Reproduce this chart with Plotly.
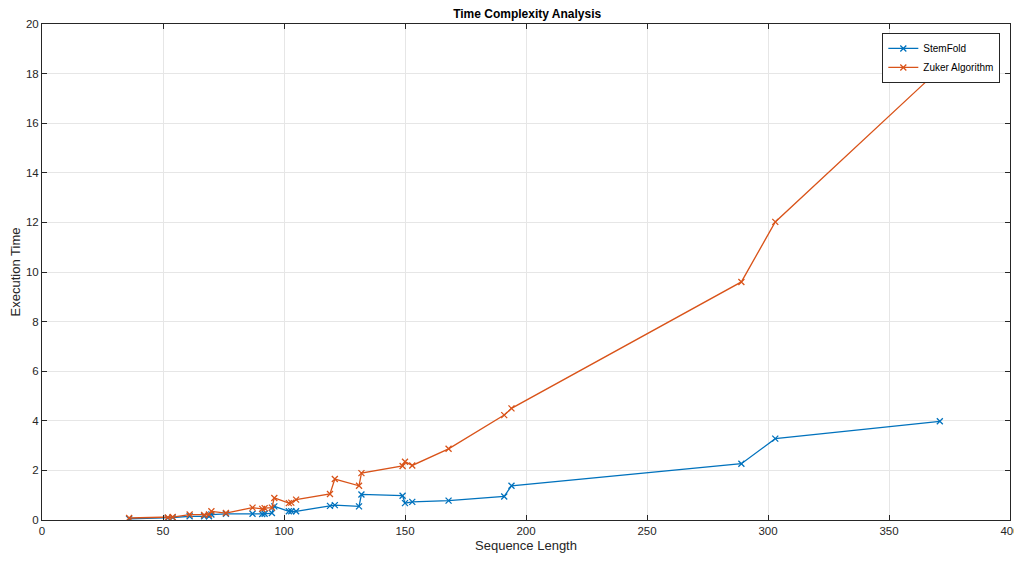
import plotly.graph_objects as go

seq_len = [36, 52, 54, 61, 67, 69, 70, 76, 87, 91, 92, 95, 96, 102, 103, 105,
           119, 121, 131, 132, 149, 150, 153, 168, 191, 194, 289, 303, 371]
stemfold = [0.05, 0.08, 0.1, 0.15, 0.15, 0.15, 0.22, 0.25, 0.25, 0.24, 0.25, 0.28,
            0.55, 0.35, 0.35, 0.35, 0.57, 0.6, 0.55, 1.03, 0.98, 0.68, 0.73, 0.78,
            0.95, 1.38, 2.27, 3.28, 3.98]
zuker = [0.08, 0.1, 0.12, 0.22, 0.2, 0.22, 0.35, 0.28, 0.5, 0.45, 0.48, 0.5,
         0.89, 0.68, 0.7, 0.82, 1.05, 1.65, 1.38, 1.89, 2.18, 2.35, 2.2, 2.87,
         4.23, 4.5, 9.6, 12.02, 18.19]

x_ticks = [0, 50, 100, 150, 200, 250, 300, 350, 400]
y_ticks = [0, 2, 4, 6, 8, 10, 12, 14, 16, 18, 20]

fig = go.Figure()
fig.add_trace(go.Scatter(x=seq_len, y=stemfold, mode="lines+markers", name="StemFold",
                         line=dict(color="#0072BD", width=1.3),
                         marker=dict(symbol="x-thin", size=6,
                                     line=dict(color="#0072BD", width=1.3))))
fig.add_trace(go.Scatter(x=seq_len, y=zuker, mode="lines+markers", name="Zuker Algorithm",
                         line=dict(color="#D95319", width=1.3),
                         marker=dict(symbol="x-thin", size=6,
                                     line=dict(color="#D95319", width=1.3))))

axis_common = dict(showline=True, linecolor="#262626", linewidth=1, mirror="ticks",
                   ticks="inside", ticklen=5, tickcolor="#262626",
                   showgrid=True, gridcolor="#E6E6E6", gridwidth=1, zeroline=False,
                   automargin=False,
                   tickfont=dict(family="Arial", size=11.5, color="#262626"))

fig.update_layout(
    width=1014, height=545,
    margin=dict(l=34, r=12, t=16, b=33),
    paper_bgcolor="white", plot_bgcolor="white",
    title=dict(text="<b>Time Complexity Analysis</b>", x=0.512, xanchor="center",
               y=0.989, yanchor="middle",
               font=dict(family="Arial", size=12, color="black")),
    xaxis=dict(range=[0, 400], tickvals=x_ticks,
               title=dict(text="Sequence Length", standoff=6,
                          font=dict(family="Arial", size=13, color="#262626")),
               **axis_common),
    yaxis=dict(range=[0, 20], tickvals=y_ticks,
               title=dict(text="Execution Time", standoff=7,
                          font=dict(family="Arial", size=13, color="#262626")),
               **axis_common),
    legend=dict(x=0.99, y=0.982, xanchor="right", yanchor="top",
                bgcolor="white", bordercolor="#262626", borderwidth=1,
                font=dict(family="Arial", size=10, color="black"),
                tracegroupgap=0, itemwidth=30),
    showlegend=True,
)

fig.write_html("out.html")
